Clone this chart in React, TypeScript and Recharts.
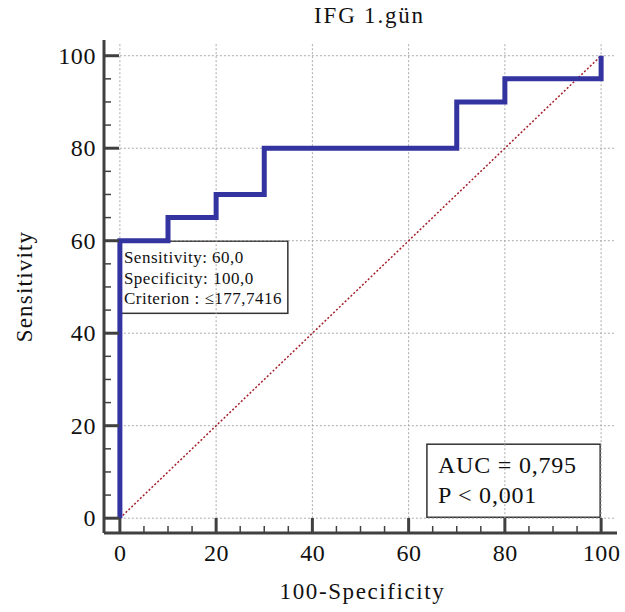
import { LineChart, Line, XAxis, YAxis, ReferenceLine, ReferenceArea } from "recharts"

const rocX = [0, 0, 10, 20, 30, 70, 80, 100]
const rocY = [0, 60, 65, 70, 80, 90, 95, 100]
const diagX = [0, 100]
const diagY = [0, 100]
const ticks = [0, 5, 10, 15, 20, 25, 30, 35, 40, 45, 50, 55, 60, 65, 70, 75, 80, 85, 90, 95, 100]
const majorTicks = [0, 20, 40, 60, 80, 100]
const infoLines = ["Sensitivity: 60,0", "Specificity: 100,0", "Criterion : ≤177,7416"]
const aucLines = ["AUC = 0,795", "P < 0,001"]

const roc = rocX.map((x, i) => ({ x, y: rocY[i] }))
const diag = diagX.map((x, i) => ({ x, y: diagY[i] }))

const FONT = "'Liberation Serif', 'Times New Roman', serif"
const AXIS = "#404040"
const GRID = "#aaaaaa"

function XTick(props: any) {
  const { x, y, payload } = props
  const major = payload.value % 20 === 0
  return (
    <g>
      <line x1={x} x2={x} y1={y} y2={y - (major ? 15 : 7)} stroke={AXIS} strokeWidth={major ? 3 : 1.5} />
      {major && (
        <text x={x + 0.5} y={y + 28} textAnchor="middle" fontFamily={FONT} fontSize={24} letterSpacing={0.6} fill="#111">
          {payload.value}
        </text>
      )}
    </g>
  )
}

function YTick(props: any) {
  const { x, y, payload } = props
  const major = payload.value % 20 === 0
  return (
    <g>
      <line x1={x} x2={x + (major ? 15 : 7)} y1={y} y2={y} stroke={AXIS} strokeWidth={major ? 3 : 1.5} />
      {major && (
        <text x={x - 8} y={y + 8} textAnchor="end" fontFamily={FONT} fontSize={24} letterSpacing={0.6} fill="#111">
          {payload.value}
        </text>
      )}
    </g>
  )
}

function InfoBox(props: any) {
  const { x, y, width, height } = props
  return (
    <g>
      <rect x={x} y={y} width={width} height={height} fill="#fff" stroke="#333" strokeWidth={1.5} />
      {infoLines.map((t, i) => (
        <text key={i} x={x + 5} y={y + 22 + i * 20.5} fontFamily={FONT} fontSize={17} letterSpacing={0.5} fill="#111">
          {t}
        </text>
      ))}
    </g>
  )
}

function AucBox(props: any) {
  const { x, y, width, height } = props
  return (
    <g>
      <rect x={x} y={y} width={width} height={height} fill="#fff" stroke="#333" strokeWidth={1.5} />
      {aucLines.map((t, i) => (
        <text key={i} x={x + 11} y={y + 29 + i * 30} fontFamily={FONT} fontSize={24} letterSpacing={0.8} fill="#111">
          {t}
        </text>
      ))}
    </g>
  )
}

export default function App() {
  return (
    <div style={{ position: "absolute", left: 0, top: 0, width: 625, height: 612, background: "#fff" }}>
      <div
        style={{
          position: "absolute",
          left: 0,
          top: 3,
          width: 625,
          textAlign: "center",
          paddingLeft: 114,
          boxSizing: "border-box",
          fontFamily: FONT,
          fontSize: 23,
          letterSpacing: 1.8,
          color: "#111",
        }}
      >
        IFG 1.gün
      </div>
      <LineChart width={625} height={612} margin={{ top: 40, right: 8, left: 103, bottom: 78 }}>
        <XAxis
          type="number"
          dataKey="x"
          domain={[-3.3, 103.3]}
          ticks={ticks}
          interval={0}
          height={1}
          tickSize={0}
          tickMargin={0}
          tickLine={false}
          axisLine={{ stroke: AXIS, strokeWidth: 3 }}
          tick={<XTick />}
          allowDataOverflow
          label={(p: any) => (
            <text
              x={p.viewBox.x + p.viewBox.width / 2 + 2}
              y={p.viewBox.y + 66}
              textAnchor="middle"
              fontFamily={FONT}
              fontSize={23}
              letterSpacing={1.6}
              fill="#111"
            >
              100-Specificity
            </text>
          )}
        />
        <YAxis
          type="number"
          dataKey="y"
          domain={[-3.2, 103.4]}
          ticks={ticks}
          interval={0}
          width={1}
          tickSize={0}
          tickMargin={0}
          tickLine={false}
          axisLine={{ stroke: AXIS, strokeWidth: 3 }}
          tick={<YTick />}
          allowDataOverflow
          label={(p: any) => {
            const cx = p.viewBox.x - 71
            const cy = p.viewBox.y + p.viewBox.height / 2
            return (
              <text
                x={cx}
                y={cy}
                transform={`rotate(-90 ${cx} ${cy})`}
                textAnchor="middle"
                fontFamily={FONT}
                fontSize={23}
                letterSpacing={1.2}
                fill="#111"
              >
                Sensitivity
              </text>
            )
          }}
        />
        {majorTicks.map((v) => (
          <ReferenceLine
            key={"v" + v}
            segment={[{ x: v, y: 0 }, { x: v, y: 102.7 }]}
            stroke={GRID}
            strokeDasharray="2 2"
            strokeWidth={1}
          />
        ))}
        {majorTicks.map((v) => (
          <ReferenceLine
            key={"h" + v}
            segment={[{ x: 0, y: v }, { x: 102.7, y: v }]}
            stroke={GRID}
            strokeDasharray="2 2"
            strokeWidth={1}
          />
        ))}
        <Line
          data={diag}
          dataKey="y"
          type="linear"
          stroke="#a3202a"
          strokeWidth={1.5}
          strokeDasharray="2 2"
          dot={false}
          isAnimationActive={false}
        />
        <Line
          data={roc}
          dataKey="y"
          type="stepAfter"
          stroke="#3434a0"
          strokeWidth={5}
          dot={false}
          isAnimationActive={false}
        />
        <ReferenceArea x1={-0.2} x2={34.9} y1={44.3} y2={59.9} shape={<InfoBox />} />
        <ReferenceArea x1={63.8} x2={99.8} y1={0.2} y2={16.0} shape={<AucBox />} />
      </LineChart>
    </div>
  )
}
